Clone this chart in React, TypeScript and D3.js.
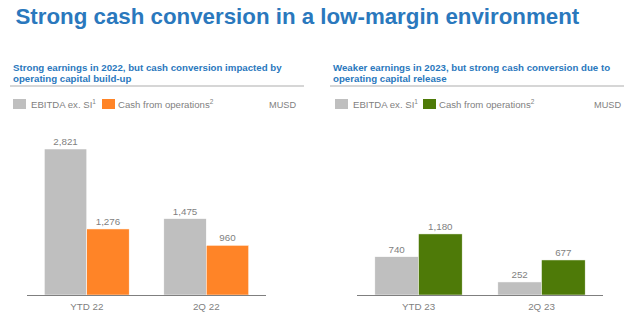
import React from "react";
import * as d3 from "d3";

const titleText = "Strong cash conversion in a low-margin environment";

const leftSubtitle = ["Strong earnings in 2022, but cash conversion impacted by", "operating capital build-up"];
const rightSubtitle = ["Weaker earnings in 2023, but strong cash conversion due to", "operating capital release"];

const seriesNames = ["EBITDA ex. SI", "Cash from operations"];
const seriesSup = ["1", "2"];
const unitLabel = "MUSD";

const categoriesLeft = ["YTD 22", "2Q 22"];
const ebitdaLeft = [2821, 1475];
const cashLeft = [1276, 960];

const categoriesRight = ["YTD 23", "2Q 23"];
const ebitdaRight = [740, 252];
const cashRight = [1180, 677];

const BLUE = "#2a78bd";
const GRAY_BAR = "#bfbfbf";
const ORANGE = "#ff8427";
const GREEN = "#4e7a08";
const TEXT_GRAY = "#7f7f7f";
const FONT = "'Liberation Sans', Arial, sans-serif";

const fmt = d3.format(",");

const y = d3.scaleLinear().domain([0, 2821]).range([295, 149]);

type PanelProps = {
  x0: number;
  x1: number;
  axisX0: number;
  axisX1: number;
  subtitle: string[];
  categories: string[];
  ebitda: number[];
  cash: number[];
  cashColor: string;
  legendX: number;
  legend2X: number;
  unitX: number;
};

function Panel(p: PanelProps) {
  const x = d3
    .scaleBand<string>()
    .domain(p.categories)
    .range([p.axisX0, p.axisX1])
    .paddingInner(0.29)
    .paddingOuter(0.145);
  const sub = d3
    .scaleBand<number>()
    .domain([0, 1])
    .range([0, x.bandwidth()])
    .padding(0);
  const series = [p.ebitda, p.cash];
  const colors = [GRAY_BAR, p.cashColor];
  return (
    <g>
      {p.subtitle.map((s, i) => (
        <text
          key={i}
          x={p.x0 + 3}
          y={70.5 + i * 11.8}
          fill={BLUE}
          fontFamily={FONT}
          fontWeight="bold"
          fontSize={9.7}
        >
          {s}
        </text>
      ))}
      <line x1={p.x0} x2={p.x1} y1={86} y2={86} stroke="#c8c8c8" strokeWidth={1.5} />
      {/* legend */}
      <rect x={p.legendX} y={99} width={13} height={10} fill={GRAY_BAR} />
      <text x={p.legendX + 18} y={108} fill={TEXT_GRAY} fontFamily={FONT} fontSize={9.6}>
        {seriesNames[0]}
        <tspan fontSize={6.5} dy={-4}>{seriesSup[0]}</tspan>
      </text>
      <rect x={p.legend2X} y={99} width={13} height={10} fill={p.cashColor} />
      <text x={p.legend2X + 16} y={108} fill={TEXT_GRAY} fontFamily={FONT} fontSize={9.6}>
        {seriesNames[1]}
        <tspan fontSize={6.5} dy={-4}>{seriesSup[1]}</tspan>
      </text>
      <text x={p.unitX} y={108} fill={TEXT_GRAY} fontFamily={FONT} fontSize={9.2}>
        {unitLabel}
      </text>
      {/* bars */}
      {p.categories.map((c, ci) => (
        <g key={c} transform={`translate(${x(c)},0)`}>
          {series.map((vals, si) => {
            const v = vals[ci];
            const bx = sub(si)!;
            return (
              <g key={si}>
                <rect
                  x={bx}
                  y={y(v)}
                  width={sub.bandwidth()}
                  height={y(0) - y(v)}
                  fill={colors[si]}
                  stroke="#ffffff"
                  strokeWidth={0.5}
                />
                <text
                  x={bx + sub.bandwidth() / 2}
                  y={y(v) - 4}
                  textAnchor="middle"
                  fill={TEXT_GRAY}
                  fontFamily={FONT}
                  fontSize={9.8}
                >
                  {fmt(v)}
                </text>
              </g>
            );
          })}
          <text
            x={x.bandwidth() / 2}
            y={310}
            textAnchor="middle"
            fill={TEXT_GRAY}
            fontFamily={FONT}
            fontSize={9.8}
          >
            {c}
          </text>
        </g>
      ))}
      <line x1={p.axisX0} x2={p.axisX1} y1={y(0) + 0.5} y2={y(0) + 0.5} stroke="#7f7f7f" strokeWidth={1} />
    </g>
  );
}

export default function App() {
  return (
    <svg
      width={640}
      height={324}
      style={{ position: "absolute", left: 0, top: 0, background: "#ffffff" }}
    >
      <rect width={640} height={324} fill="#ffffff" />
      <text x={15.5} y={23.5} fill={BLUE} fontFamily={FONT} fontWeight="bold" fontSize={22.3}>
        {titleText}
      </text>
      <Panel
        x0={10}
        x1={304}
        axisX0={27}
        axisX1={266}
        subtitle={leftSubtitle}
        categories={categoriesLeft}
        ebitda={ebitdaLeft}
        cash={cashLeft}
        cashColor={ORANGE}
        legendX={13}
        legend2X={102}
        unitX={269}
      />
      <Panel
        x0={330}
        x1={624}
        axisX0={357}
        axisX1={603}
        subtitle={rightSubtitle}
        categories={categoriesRight}
        ebitda={ebitdaRight}
        cash={cashRight}
        cashColor={GREEN}
        legendX={335}
        legend2X={423}
        unitX={594}
      />
    </svg>
  );
}
